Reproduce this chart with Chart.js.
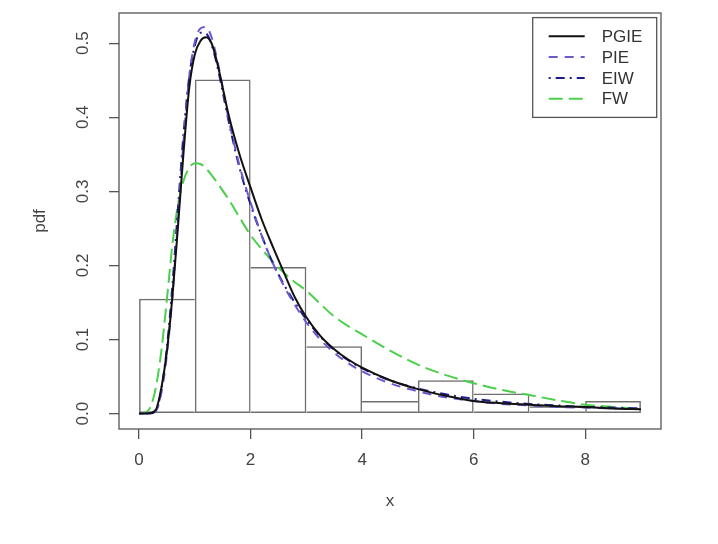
<!DOCTYPE html>
<html>
<head>
<meta charset="utf-8">
<title>pdf fits</title>
<script src="https://cdn.jsdelivr.net/npm/chart.js@4.4.1/dist/chart.umd.min.js"></script>
<style>
    body { margin: 0; background: #fff; }
    #wrap { width: 718px; height: 544px; }
</style>
</head>
<body>
<div id="wrap"><canvas id="pdfChart" width="718" height="544"></canvas></div>
<script>
// histogram (density, bin width 1)
const binCenters = [0.5, 1.5, 2.5, 3.5, 4.5, 5.5, 6.5, 7.5, 8.5];
const binDensity = [0.155, 0.451, 0.198, 0.091, 0.017, 0.045, 0.027, 0.010, 0.017];

// fitted curves
const xGrid = [0, 0.1, 0.2, 0.3, 0.4, 0.5, 0.6, 0.7, 0.8, 0.9, 1.0, 1.1, 1.2, 1.3, 1.4, 1.5, 1.6, 1.8, 2.0, 2.2, 2.4, 2.6, 2.8, 3.0, 3.25, 3.5, 3.75, 4.0, 4.5, 5.0, 5.5, 6.0, 6.5, 7.0, 7.5, 8.0, 8.5, 9.0];
const pgie = [0, 0, 0.001, 0.005, 0.035, 0.085, 0.16, 0.255, 0.355, 0.44, 0.485, 0.503, 0.508, 0.5, 0.474, 0.44, 0.405, 0.35, 0.305, 0.262, 0.225, 0.19, 0.156, 0.13, 0.105, 0.087, 0.073, 0.062, 0.045, 0.033, 0.024, 0.017, 0.014, 0.012, 0.01, 0.009, 0.007, 0.006];
const pie = [0, 0, 0, 0.003, 0.028, 0.08, 0.16, 0.265, 0.37, 0.455, 0.502, 0.52, 0.522, 0.508, 0.478, 0.44, 0.4, 0.335, 0.285, 0.24, 0.203, 0.172, 0.146, 0.123, 0.1, 0.082, 0.068, 0.057, 0.041, 0.03, 0.022, 0.017, 0.013, 0.011, 0.009, 0.008, 0.007, 0.006];
const eiw = [0, 0, 0, 0.004, 0.032, 0.09, 0.175, 0.28, 0.38, 0.455, 0.497, 0.514, 0.513, 0.498, 0.47, 0.434, 0.397, 0.332, 0.282, 0.24, 0.203, 0.174, 0.149, 0.127, 0.104, 0.086, 0.072, 0.061, 0.045, 0.034, 0.026, 0.02, 0.016, 0.013, 0.011, 0.009, 0.008, 0.007];
const fw = [0, 0.001, 0.008, 0.035, 0.085, 0.155, 0.23, 0.283, 0.315, 0.332, 0.338, 0.337, 0.331, 0.322, 0.312, 0.301, 0.29, 0.265, 0.241, 0.222, 0.205, 0.19, 0.177, 0.166, 0.148, 0.131, 0.118, 0.107, 0.085, 0.066, 0.052, 0.041, 0.032, 0.025, 0.018, 0.012, 0.009, 0.006];

const xTicks = [0, 2, 4, 6, 8];
const yTicks = [0, 0.1, 0.2, 0.3, 0.4, 0.5];

const FONT = '"Liberation Sans", Arial, sans-serif';
const FSIZE = 17;

function pts(ys) {
    return xGrid.map((x, i) => ({ x: x, y: ys[i] }));
}

function curve(label, ys, color, dash, order) {
    return {
        type: 'line',
        label: label,
        data: pts(ys),
        borderColor: color,
        borderWidth: 2,
        borderDash: dash,
        pointRadius: 0,
        fill: false,
        cubicInterpolationMode: 'monotone',
        order: order
    };
}

// a shared edge between two bins is drawn once, by the taller one
function binBorder(ctx) {
    const i = ctx.dataIndex, n = binDensity.length, w = 1.5;
    const h = binDensity[i];
    const left = (i === 0 || binDensity[i - 1] <= h) ? w : 0;
    const right = (i === n - 1 || binDensity[i + 1] < h) ? w : 0;
    return { left: left, right: right, top: w, bottom: w };
}

// R-style frame around the plot region
const frame = {
    id: 'frame',
    afterDatasetsDraw(chart) {
        const { ctx, chartArea: a } = chart;
        ctx.save();
        ctx.strokeStyle = '#555';
        ctx.lineWidth = 1.3;
        ctx.strokeRect(a.left, a.top, a.right - a.left, a.bottom - a.top);
        ctx.restore();
    }
};

// boxed legend in the top right corner
const boxLegend = {
    id: 'boxLegend',
    afterDraw(chart) {
        const { ctx, chartArea: a } = chart;
        const items = chart.data.datasets.filter(d => d.type === 'line');
        const w = 124, rowH = 20.8;
        const h = rowH * (items.length - 1) + 37.4;
        const left = a.right - 4.3 - w;
        const top = a.top + 4.6;

        ctx.save();
        ctx.fillStyle = '#fff';
        ctx.fillRect(left, top, w, h);
        ctx.strokeStyle = '#555';
        ctx.lineWidth = 1.3;
        ctx.strokeRect(left, top, w, h);

        ctx.font = FSIZE + 'px ' + FONT;
        ctx.textBaseline = 'middle';
        items.forEach((d, i) => {
            const y = top + 18.7 + i * rowH;
            ctx.strokeStyle = d.borderColor;
            ctx.lineWidth = d.borderWidth;
            ctx.setLineDash(d.borderDash || []);
            ctx.beginPath();
            ctx.moveTo(left + 16, y);
            ctx.lineTo(left + 52, y);
            ctx.stroke();
            ctx.setLineDash([]);
            ctx.fillStyle = '#333';
            ctx.fillText(d.label, left + 69, y + 1);
        });
        ctx.restore();
    }
};

new Chart(document.getElementById('pdfChart'), {
    type: 'bar',
    data: {
        datasets: [
            curve('PGIE', pgie, '#111111', [], 1),
            curve('PIE', pie, '#6a5acd', [9, 7], 2),
            curve('EIW', eiw, '#1c1c8a', [2, 5, 9, 5], 3),
            curve('FW', fw, '#4ccf4c', [14, 6], 4),
            {
                type: 'bar',
                label: 'hist',
                data: binCenters.map((c, i) => ({ x: c, y: binDensity[i] })),
                backgroundColor: 'rgba(255,255,255,0)',
                borderColor: '#707070',
                borderWidth: binBorder,
                borderSkipped: false,
                inflateAmount: 0,
                barPercentage: 1,
                categoryPercentage: 1,
                order: 10
            }
        ]
    },
    options: {
        responsive: false,
        animation: false,
        devicePixelRatio: 1,
        layout: { padding: { top: 13, right: 57, left: 0, bottom: 0 } },
        plugins: {
            legend: { display: false },
            tooltip: { enabled: false }
        },
        scales: {
            x: {
                type: 'linear',
                min: -0.36,
                max: 9.36,
                offset: false,
                afterBuildTicks: s => { s.ticks = xTicks.map(v => ({ value: v })); },
                afterFit: s => { s.height = 115; s.paddingLeft = 0; s.paddingRight = 0; },
                grid: { offset: false, drawOnChartArea: false, drawTicks: true, tickLength: 10, color: '#555', lineWidth: 1.3 },
                border: { display: false },
                ticks: {
                    color: '#444',
                    font: { size: FSIZE, family: FONT },
                    padding: 11,
                    maxRotation: 0,
                    autoSkip: false,
                    callback: v => String(v)
                },
                title: {
                    display: true,
                    text: 'x',
                    color: '#444',
                    font: { size: FSIZE, family: FONT },
                    padding: { top: 0, bottom: 32 }
                }
            },
            y: {
                type: 'linear',
                min: -0.0208,
                max: 0.5408,
                afterBuildTicks: s => { s.ticks = yTicks.map(v => ({ value: v })); },
                afterFit: s => { s.width = 119; s.paddingTop = 0; s.paddingBottom = 0; },
                grid: { drawOnChartArea: false, drawTicks: true, tickLength: 10, color: '#555', lineWidth: 1.3 },
                border: { display: false },
                ticks: {
                    color: '#444',
                    font: { size: FSIZE, family: FONT },
                    padding: 14,
                    minRotation: 90,
                    maxRotation: 90,
                    crossAlign: 'center',
                    autoSkip: false,
                    callback: v => v.toFixed(1)
                },
                title: {
                    display: true,
                    text: 'pdf',
                    color: '#444',
                    font: { size: FSIZE, family: FONT },
                    padding: { top: 30, bottom: 0 }
                }
            }
        }
    },
    plugins: [frame, boxLegend]
});
</script>
</body>
</html>
